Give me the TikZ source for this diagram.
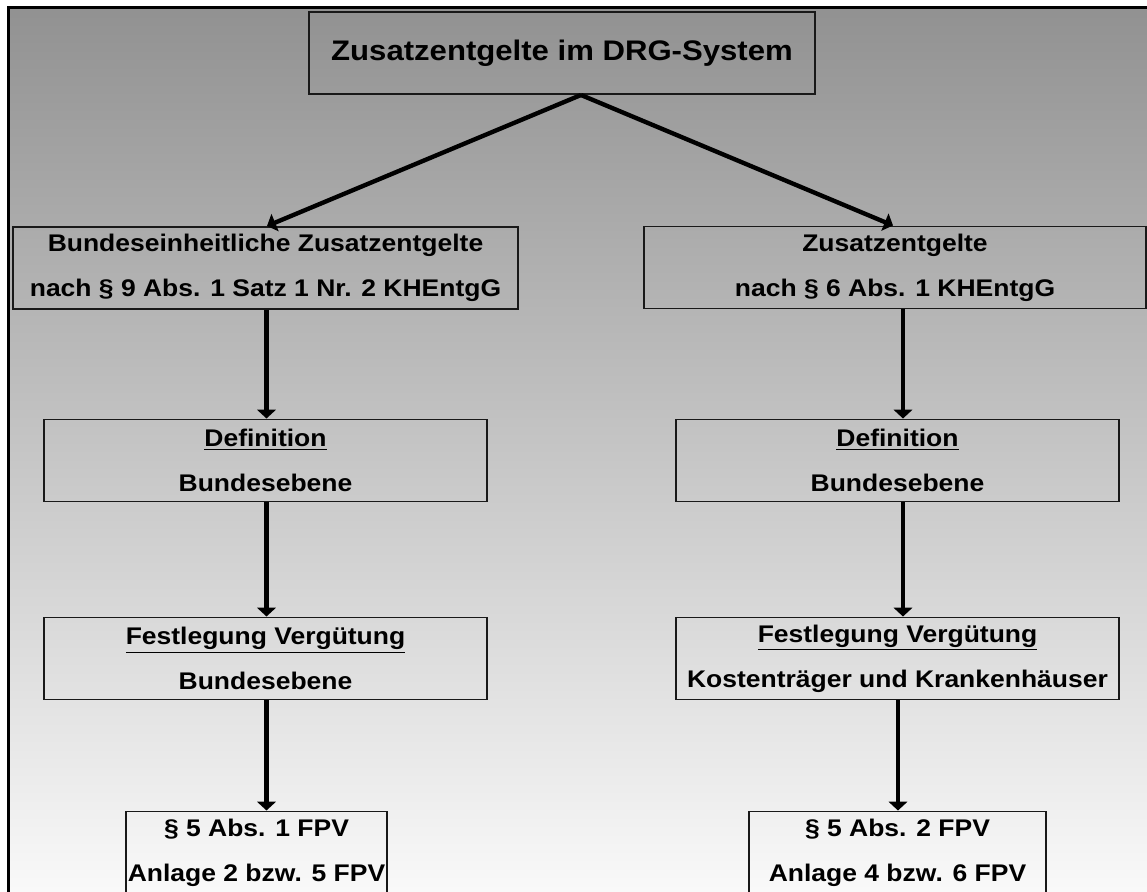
\documentclass[tikz,border=0pt]{standalone}
\usepackage{fontspec}
\setmainfont{Liberation Sans}[FakeStretch=1.1]
\usetikzlibrary{arrows.meta}

\tikzset{
  kasten/.style={draw=black!90,line width=0.85pt,align=center,inner sep=0pt,
    minimum height=1.65cm,font=\bfseries\fontsize{13.7}{25.5}\selectfont},
  pfeil/.style={line width=2.5pt,-{Triangle[length=5pt,width=10.5pt]}}
}

\begin{document}
\begin{tikzpicture}[x=0.02cm,y=-0.02cm]
\useasboundingbox (0,0) rectangle (1147,892);
\clip (0,0) rectangle (1147,892);
% Hintergrund mit Rahmen
\shade[top color=black!43,bottom color=black!1] (8.5,7.5) rectangle (1180,920);
\draw[line width=1.3pt] (8.5,920)--(8.5,7.5)--(1180,7.5);

\coordinate (apex) at (581,0);
\coordinate (xL) at (266.5,0);
\coordinate (xLd) at (267,0);
\coordinate (xRd) at (893,0);
\coordinate (xR) at (903,0);
\coordinate (xRb) at (898,0);

\node[kasten,minimum width=10.12cm,font=\bfseries\fontsize{16.1}{20}\selectfont] (drg) at (562,53) {Zusatzentgelte im DRG-System};

\node[kasten,minimum width=10.1cm] (bund) at (265.5,268) {Bundeseinheitliche Zusatzentgelte\\nach § 9 Abs. 1 Satz 1 Nr. 2 KHEntgG};
\node[kasten,minimum width=10.04cm] (zus) at (895,267.5) {Zusatzentgelte\\nach § 6 Abs. 1 KHEntgG};

\node[kasten,minimum width=8.86cm] (defL) at (265.5,460.5) {\underline{Definition}\\Bundesebene};
\node[kasten,minimum width=8.86cm] (defR) at (897.5,460.5) {\underline{Definition}\\Bundesebene};

\node[kasten,minimum width=8.86cm] (fesL) at (265.5,658.5) {\underline{Festlegung Vergütung}\\Bundesebene};
\node[kasten,minimum width=8.86cm] (fesR) at (897.5,658.5) {\underline{Festlegung Vergütung}\\Kostenträger und Krankenhäuser};

\node[kasten,minimum width=5.22cm] (fpvL) at (256.5,852.5) {§ 5 Abs. 1 FPV\\Anlage 2 bzw. 5 FPV};
\node[kasten,minimum width=5.94cm] (fpvR) at (897.5,852.5) {§ 5 Abs. 2 FPV\\Anlage 4 bzw. 6 FPV};

\draw[pfeil] (drg.south -| apex) -- (bund.north -| xLd);
\draw[pfeil] (drg.south -| apex) -- (zus.north -| xRd);

\draw[pfeil] (bund.south -| xL) -- (defL.north -| xL);
\draw[pfeil] (defL.south -| xL) -- (fesL.north -| xL);
\draw[pfeil] (fesL.south -| xL) -- (fpvL.north -| xL);

\draw[pfeil] (zus.south -| xR) -- (defR.north -| xR);
\draw[pfeil] (defR.south -| xR) -- (fesR.north -| xR);
\draw[pfeil] (fesR.south -| xRb) -- (fpvR.north -| xRb);
\end{tikzpicture}
\end{document}
